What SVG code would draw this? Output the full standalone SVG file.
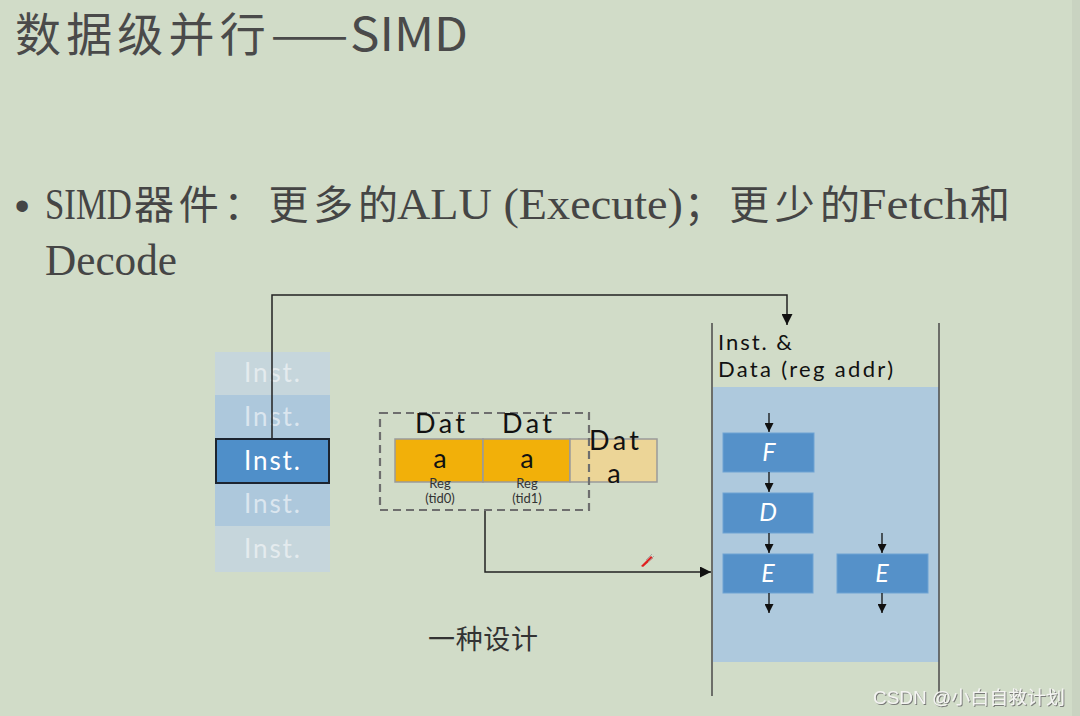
<svg xmlns="http://www.w3.org/2000/svg" width="1080" height="716" viewBox="0 0 1080 716">
<style>
.bg{fill:#d1dcc8}
.title{font-family:"Noto Sans CJK SC","Noto Sans",sans-serif;font-size:46px;fill:#4a4a4a}
.cjk{font-family:"Noto Sans CJK SC",sans-serif;font-size:40px;fill:#454545}
.lat{font-family:"Liberation Serif","Noto Sans CJK SC",serif;font-size:44px;fill:#454545}
.hand{font-family:Lato,"Noto Sans",sans-serif}
.inst{font-size:26px;text-anchor:middle}
.lbl{font-size:22px;fill:#111}
.dat{font-size:27px;fill:#111;text-anchor:middle}
.reg{font-size:13px;fill:#333;text-anchor:middle}
.stage rect{fill:#5591c9;stroke:#6ea3d3;stroke-width:1}
.stage text{font-family:Lato,"Noto Sans",sans-serif;font-size:25px;font-style:italic;fill:#ffffff;text-anchor:middle}
.conn{fill:none;stroke:#222;stroke-width:1.5}
.sm{fill:none;stroke:#111;stroke-width:1.3}
.cell{stroke:#9a9a9a;stroke-width:1.5}
</style>
<defs>
<marker id="ah" viewBox="0 0 10 10" refX="10" refY="5" markerWidth="11" markerHeight="11" markerUnits="userSpaceOnUse" orient="auto"><path d="M0,0 L10,5 L0,10 z" fill="#111"/></marker>
<marker id="ahs" viewBox="0 0 10 10" refX="10" refY="5" markerWidth="9" markerHeight="9" markerUnits="userSpaceOnUse" orient="auto"><path d="M0,0 L10,5 L0,10 z" fill="#111"/></marker>
<filter id="sh" x="-10%" y="-30%" width="120%" height="160%"><feDropShadow dx="1" dy="1" stdDeviation="0.6" flood-color="#707070" flood-opacity="0.9"/></filter>
</defs>
<rect class="bg" x="0" y="0" width="1080" height="716"/>
<rect x="1072" y="0" width="8" height="716" fill="#c9d3c1"/>

<g id="title">
<text class="title" x="15" y="51" textLength="333" lengthAdjust="spacing">数据级并行——</text>
<text class="title" x="350" y="51" textLength="118" lengthAdjust="spacingAndGlyphs">SIMD</text>
</g>

<g id="bullet">
<text x="22" y="220" font-family="Liberation Sans,sans-serif" font-size="42" fill="#454545" text-anchor="middle">•</text>
<text class="lat" transform="translate(45,219) scale(0.79,1)" x="0" y="0" textLength="110" lengthAdjust="spacingAndGlyphs">SIMD</text>
<text class="cjk" x="134" y="219" textLength="264" lengthAdjust="spacing">器件：更多的</text>
<text class="lat" x="397" y="219" textLength="286" lengthAdjust="spacingAndGlyphs">ALU (Execute)</text>
<text class="cjk" x="684" y="219" textLength="176" lengthAdjust="spacing">；更少的</text>
<text class="lat" x="859" y="219" textLength="110" lengthAdjust="spacingAndGlyphs">Fetch</text>
<text class="cjk" x="970" y="219">和</text>
<text class="lat" x="45" y="275" textLength="132" lengthAdjust="spacingAndGlyphs">Decode</text>
</g>

<g id="inst-column">
<rect x="215" y="352" width="115" height="43" fill="#c6d6dc"/>
<rect x="215" y="395" width="115" height="44" fill="#adc8dc"/>
<rect x="215" y="483" width="115" height="43" fill="#adc8dc"/>
<rect x="215" y="526" width="115" height="46" fill="#c6d6dc"/>
<text class="hand inst" x="272" y="382" fill="#e4ebee" textLength="56">Inst.</text>
<text class="hand inst" x="272" y="426" fill="#dbe6ef" textLength="56">Inst.</text>
<text class="hand inst" x="272" y="513" fill="#dbe6ef" textLength="56">Inst.</text>
<text class="hand inst" x="272" y="558" fill="#e4ebee" textLength="56">Inst.</text>
</g>

<g id="connectors">
<path class="conn" d="M272,439 V295 H787 V325" marker-end="url(#ah)"/>
<path class="conn" d="M485,511 V572 H711" marker-end="url(#ah)"/>
</g>

<g id="inst-current">
<rect x="216" y="439" width="113" height="44" fill="#4f8fc9" stroke="#1c2430" stroke-width="2"/>
<text class="hand inst" x="272" y="470" fill="#ffffff" textLength="56">Inst.</text>
</g>

<g id="data-regs">
<rect class="cell" x="395" y="439" width="88" height="43" fill="#f2b009"/>
<rect class="cell" x="483" y="439" width="87" height="43" fill="#f2b009"/>
<rect class="cell" x="570" y="439" width="87" height="43" fill="#ecd597"/>
<rect x="380" y="413" width="209" height="97" fill="none" stroke="#6e6e6e" stroke-width="2.2" stroke-dasharray="8,5"/>
<text class="hand dat" x="440" y="433" textLength="50">Dat</text>
<text class="hand dat" x="527" y="433" textLength="50">Dat</text>
<text class="hand dat" x="440" y="468">a</text>
<text class="hand dat" x="527" y="468">a</text>
<text class="hand reg" x="440" y="488">Reg</text>
<text class="hand reg" x="440" y="503">(tid0)</text>
<text class="hand reg" x="527" y="488">Reg</text>
<text class="hand reg" x="527" y="503">(tid1)</text>
<text class="hand dat" x="614" y="450" textLength="50">Dat</text>
<text class="hand dat" x="614" y="483">a</text>
</g>

<g id="pipeline">
<rect x="713" y="387" width="226" height="275" fill="#aec9dd"/>
<line x1="712" y1="323" x2="712" y2="696" stroke="#4a4a4a" stroke-width="1.5"/>
<line x1="939" y1="323" x2="939" y2="696" stroke="#4a4a4a" stroke-width="1.5"/>
<text class="hand lbl" x="718" y="350" textLength="74">Inst. &amp;</text>
<text class="hand lbl" x="718" y="377" textLength="175">Data (reg addr)</text>
</g>

<g id="stage-F" class="stage"><rect x="723" y="433" width="91" height="39"/><text x="769" y="461">F</text></g>
<g id="stage-D" class="stage"><rect x="723" y="493" width="90" height="40"/><text x="768" y="521">D</text></g>
<g id="stage-E1" class="stage"><rect x="723" y="554" width="90" height="39"/><text x="768" y="582">E</text></g>
<g id="stage-E2" class="stage"><rect x="837" y="554" width="91" height="39"/><text x="882" y="582">E</text></g>

<g id="stage-arrows">
<path class="sm" d="M769,413 V432" marker-end="url(#ahs)"/>
<path class="sm" d="M769,472 V492" marker-end="url(#ahs)"/>
<path class="sm" d="M769,533 V553" marker-end="url(#ahs)"/>
<path class="sm" d="M769,593 V613" marker-end="url(#ahs)"/>
<path class="sm" d="M882,533 V553" marker-end="url(#ahs)"/>
<path class="sm" d="M882,593 V613" marker-end="url(#ahs)"/>
</g>

<g id="cursor">
<path d="M641,566 L651,556 L653,558 L643,567 z" fill="#e02020"/>
<path d="M646,560 L652,554 M648,562 L654,556" stroke="#999" stroke-width="0.8"/>
</g>

<g id="caption">
<text x="428" y="649" font-family="Noto Sans CJK SC,sans-serif" font-size="27" fill="#333" textLength="110" lengthAdjust="spacing">一种设计</text>
</g>

<g id="watermark">
<text x="873" y="704" font-family="Liberation Sans,Noto Sans CJK SC,sans-serif" font-size="18" fill="#f4f4f2" filter="url(#sh)" textLength="192" lengthAdjust="spacingAndGlyphs">CSDN @小白自救计划</text>
</g>
</svg>
